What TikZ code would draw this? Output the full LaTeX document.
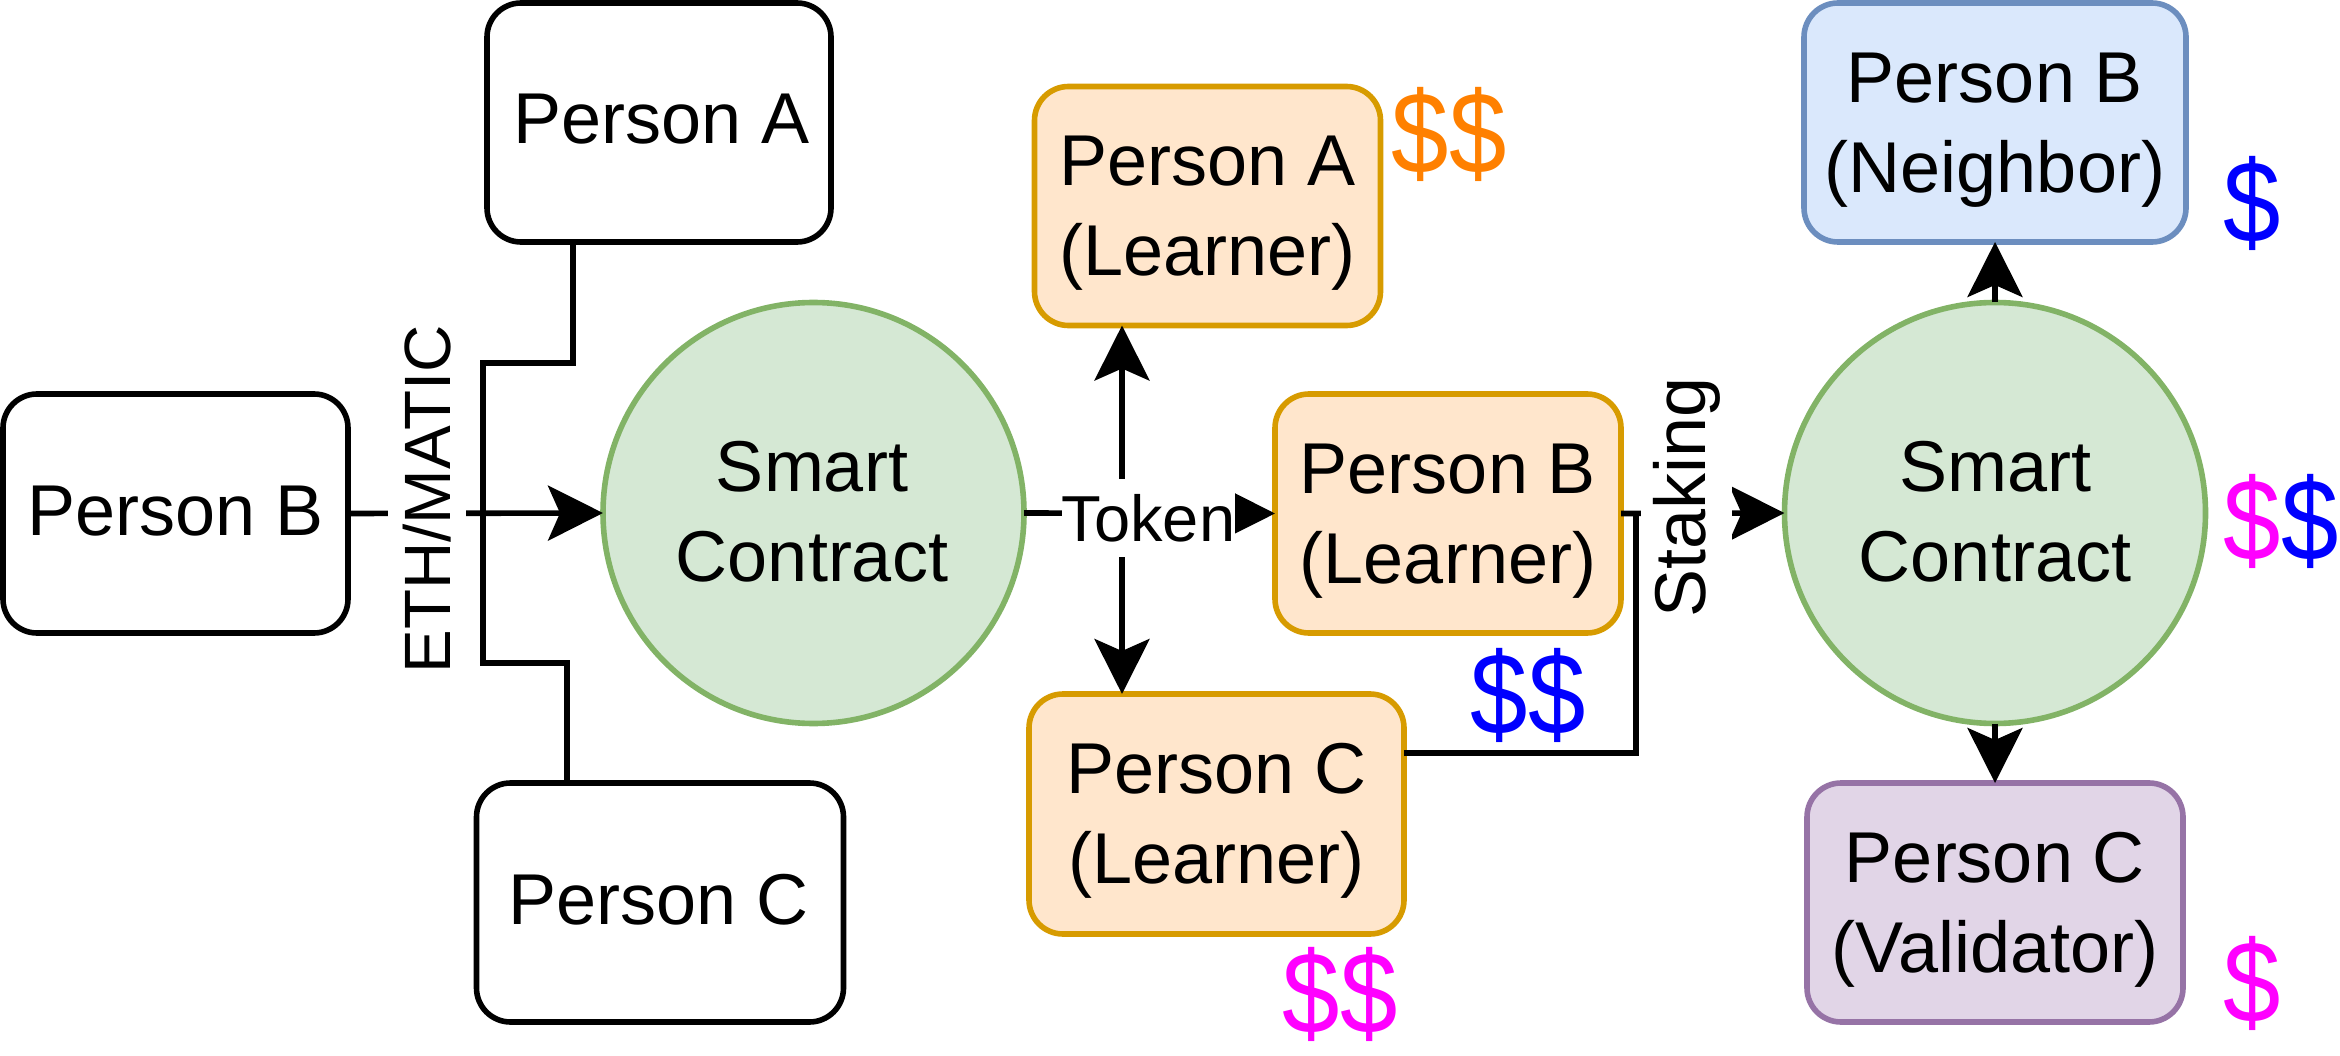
\documentclass[tikz,border=0pt]{standalone}
\usepackage{fontspec}
\setmainfont{Liberation Sans}
\usetikzlibrary{arrows.meta}
\definecolor{orangeF}{HTML}{FFE6CC}\definecolor{orangeS}{HTML}{D79B00}
\definecolor{greenF}{HTML}{D5E8D4}\definecolor{greenS}{HTML}{82B366}
\definecolor{blueF}{HTML}{DAE8FC}\definecolor{blueS}{HTML}{6C8EBF}
\definecolor{purpleF}{HTML}{E1D5E7}\definecolor{purpleS}{HTML}{9673A6}
\definecolor{coinorange}{HTML}{FF8000}\definecolor{coinmagenta}{HTML}{FF00FF}\definecolor{coinblue}{HTML}{0000FF}
\tikzset{
  every node/.style={outer sep=0pt,inner sep=0pt},
  box/.style={draw,line width=5.6pt,rounded corners=34pt,align=center,
    font=\fontsize{72}{90}\selectfont},
  learner/.style={box,draw=orangeS,fill=orangeF},
  contract/.style={circle,draw=greenS,fill=greenF,line width=5.6pt,minimum size=421pt,align=center,
    font=\fontsize{72}{90}\selectfont},
  conn/.style={line width=5.6pt,draw=black},
  tipped/.style={conn,-{Stealth[length=55pt,width=55pt,inset=12pt]}},
  lab/.style={fill=white,font=\fontsize{65.5}{78}\selectfont},
  coin/.style={font=\fontsize{103}{110}\selectfont},
}
\newcommand{\sizedbox}[6]{\node[#1,minimum width=#4pt,minimum height=#5pt] (#2) at (#3) {#6};}
% struts that move a node's text up or down inside its shape
\newcommand{\movedown}{\rule{0pt}{64pt}}
\newcommand{\moveup}[1]{\rule[-#1pt]{0pt}{#1pt}}
\newcommand{\tallcoin}[1]{\scalebox{1}[1.13]{#1}}
\begin{document}
\begin{tikzpicture}[x=1pt,y=-1pt]
\useasboundingbox (0,0) rectangle (2340,1056);
\sizedbox{box}{pa}{659,122.5}{344}{239}{\hspace*{5pt}Person A\moveup{7}}
\sizedbox{box}{pb}{175.5,513.5}{345}{239}{Person B\moveup{5}}
\sizedbox{box}{pc}{660,902.5}{367}{239}{Person C\hspace*{3pt}\moveup{7}}
\node[contract] (sc1) at (813.5,513) {Smart\hspace*{3pt}\\Contract\hspace*{3pt}\moveup{4}};
\sizedbox{learner}{la}{1207.5,206}{346}{239}{\movedown Person A\\(Learner)}
\sizedbox{learner}{lb}{1448,513.5}{346}{239}{\movedown Person B\\(Learner)}
\sizedbox{learner}{lc}{1216.5,814}{375}{240}{\movedown Person C\\(Learner)}
\node[contract] (sc2) at (1995,513) {Smart\\Contract\moveup{4}};
\sizedbox{box,draw=blueS,fill=blueF}{nb}{1995,122.5}{382}{239}{\movedown Person B\\(Neighbor)}
\sizedbox{box,draw=purpleS,fill=purpleF}{vc}{1995,902.5}{376}{239}{\movedown Person C\\(Validator)}
% connectors
\coordinate (j1) at (483,513);
\coordinate (j2) at (1122,513);
\coordinate (j3) at (1636,513);
\draw[conn] ([xshift=-86pt]pa.south) |- (483,363) -- (j1);
\draw[conn] ([xshift=-93pt]pc.north) |- (483,663) -- (j1);
\draw[tipped] (pb.east) -- (sc1.west);
\draw[tipped] (sc1.east) -- (lb.west);
\draw[tipped] (j2) -- (j2 |- la.south);
\draw[tipped] (j2) -- (j2 |- lc.north);
\draw[tipped] (lb.east) -- (sc2.west);
\coordinate (lcout) at (lc.east |- 0,753);
\draw[conn] (lcout) -| (j3);
\draw[tipped] (sc2.north) -- (nb.south);
\draw[tipped] (sc2.south) -- (vc.north);
% labels
\node[lab,rotate=90,minimum width=343pt,minimum height=78pt] (eth) at (427,499.5) {ETH/MATIC};
\node[lab,minimum width=173pt,minimum height=78pt,font=\fontsize{65}{78}\selectfont] (tok) at (1148.5,518) {Token};
\node[lab,rotate=90,minimum width=231pt,minimum height=91pt,font=\fontsize{72}{78}\selectfont] (stk) at (1686.5,497.5) {Staking};
% coins
\node[coin,text=coinorange] (c1) at (1449,134) {\tallcoin{\$\$}};
\node[coin,text=coinblue] (c2) at (1528,695) {\tallcoin{\$\$}};
\node[coin,text=coinmagenta] (c3) at (1340,994) {\tallcoin{\$\$}};
\node[coin,text=coinblue] (c4) at (2252,203) {\tallcoin{\$}};
\node[coin] (c5) at (2281,521) {\tallcoin{\textcolor{coinmagenta}{\$}\textcolor{coinblue}{\$}}};
\node[coin,text=coinmagenta] (c6) at (2252,983) {\tallcoin{\$}};
\end{tikzpicture}
\end{document}
